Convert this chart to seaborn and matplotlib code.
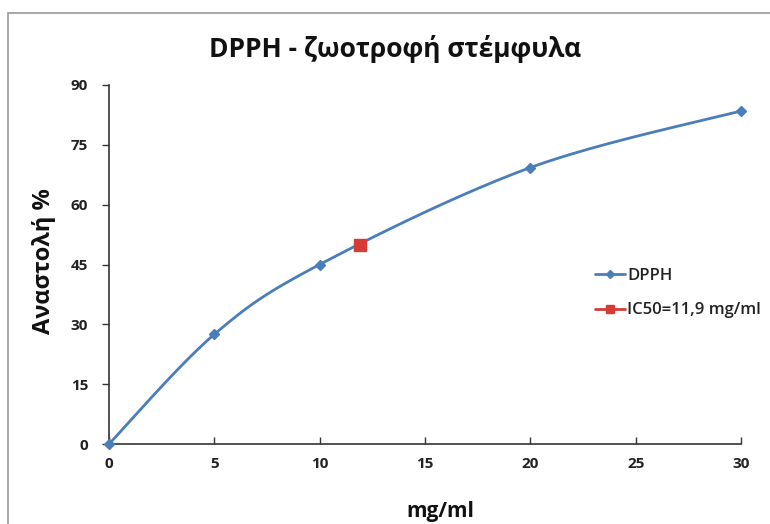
import numpy as np
import pandas as pd
import matplotlib
matplotlib.use("Agg")
import matplotlib.pyplot as plt
from matplotlib.patches import Rectangle
from matplotlib.lines import Line2D
import seaborn as sns

# Data
conc = [0, 5, 10, 20, 30]
inhibition = [0, 27.5, 45, 69.3, 83.5]
ic50_x = [11.9]
ic50_y = [50]
x_ticks = [0, 5, 10, 15, 20, 25, 30]
y_ticks = [0, 15, 30, 45, 60, 75, 90]

sns.set_theme(style="white")
plt.rcParams['font.family'] = ['Open Sans', 'DejaVu Sans']

fig = plt.figure(figsize=(7.7, 5.24), dpi=100)
ax = fig.add_axes([109/770, 1-444/524, (741-109)/770, (444-85)/524])

# chart frame
fig.patches.append(Rectangle((8/770, -0.01), 1.0, 1-13/524+0.01, transform=fig.transFigure,
                             fill=False, edgecolor='#9a9a9a', linewidth=1.2))

def smooth(xs, ys, n=40):
    xs = np.asarray(xs, float); ys = np.asarray(ys, float)
    px = np.concatenate([[xs[0]], xs, [xs[-1]]])
    py = np.concatenate([[ys[0]], ys, [ys[-1]]])
    ox, oy = [], []
    for i in range(1, len(px)-2):
        t = np.linspace(0, 1, n)
        p0 = np.array([px[i-1], py[i-1]]); p1 = np.array([px[i], py[i]])
        p2 = np.array([px[i+1], py[i+1]]); p3 = np.array([px[i+2], py[i+2]])
        c1 = p1 + (p2 - p0) / 6
        c2 = p2 - (p3 - p1) / 6
        pts = ((1-t)**3)[:, None]*p1 + (3*(1-t)**2*t)[:, None]*c1 + (3*(1-t)*t**2)[:, None]*c2 + (t**3)[:, None]*p2
        ox.extend(pts[:, 0]); oy.extend(pts[:, 1])
    return np.array(ox), np.array(oy)

blue = '#4a7ebb'
red = '#d63c36'
sx, sy = smooth(conc, inhibition)
sns.lineplot(x=sx, y=sy, ax=ax, color=blue, linewidth=2, sort=False, legend=False)
df = pd.DataFrame({'x': conc, 'y': inhibition})
ax.plot(df['x'], df['y'], linestyle='none', marker='D', markersize=5.5, color=blue, clip_on=False, zorder=5)
ax.plot(ic50_x, ic50_y, linestyle='none', marker='s', markersize=8, color=red, zorder=6)

handles = [Line2D([], [], color=blue, marker='D', markersize=4, linewidth=2),
           Line2D([], [], color=red, marker='s', markersize=6, linewidth=2)]
leg = ax.legend(handles, ['DPPH', 'IC50=11,9 mg/ml'], loc='center left',
                bbox_to_anchor=(0.745, 0.42), frameon=False,
                prop={'size': 12, 'weight': 'semibold'},
                handlelength=1.8, handletextpad=0.15, labelspacing=1.1)
for t in leg.get_texts():
    t.set_color('#222222')

ax.set_xlim(0, 30)
ax.set_ylim(0, 90)
ax.set_xticks(x_ticks)
ax.set_yticks(y_ticks)
ax.set_xticklabels([str(v) for v in x_ticks], fontsize=11, fontweight='bold', color='#222222')
ax.set_yticklabels([str(v) for v in y_ticks], fontsize=11, fontweight='bold', color='#222222')
for sp in ['top', 'right']:
    ax.spines[sp].set_visible(False)
for sp in ['left', 'bottom']:
    ax.spines[sp].set_color('#333333')
    ax.spines[sp].set_linewidth(1.2)
ax.tick_params(axis='y', direction='out', length=5, width=1, color='#333333', pad=10, left=True)
ax.tick_params(axis='x', direction='in', length=5, width=1, color='#333333', pad=9, bottom=True)
ax.set_xlabel('mg/ml', fontsize=15, fontweight='bold', color='#111111')
ax.xaxis.set_label_coords((440-109)/(741-109), -(512-444)/(444-85), transform=ax.transAxes)
ax.xaxis.label.set_va('center')
ax.set_ylabel('Αναστολή %', fontsize=17, fontweight='bold', color='#111111')
ax.yaxis.set_label_coords(-(109-44)/(741-109), (444-261)/(444-85), transform=ax.transAxes)
ax.yaxis.label.set_va('center')
ax.grid(False)

fig.text(395/770, 1-57/524, 'DPPH - ζωοτροφή στέμφυλα', ha='center', va='baseline',
         fontsize=19, fontweight='bold', color='#111111')

fig.savefig('out.png', dpi=100)
